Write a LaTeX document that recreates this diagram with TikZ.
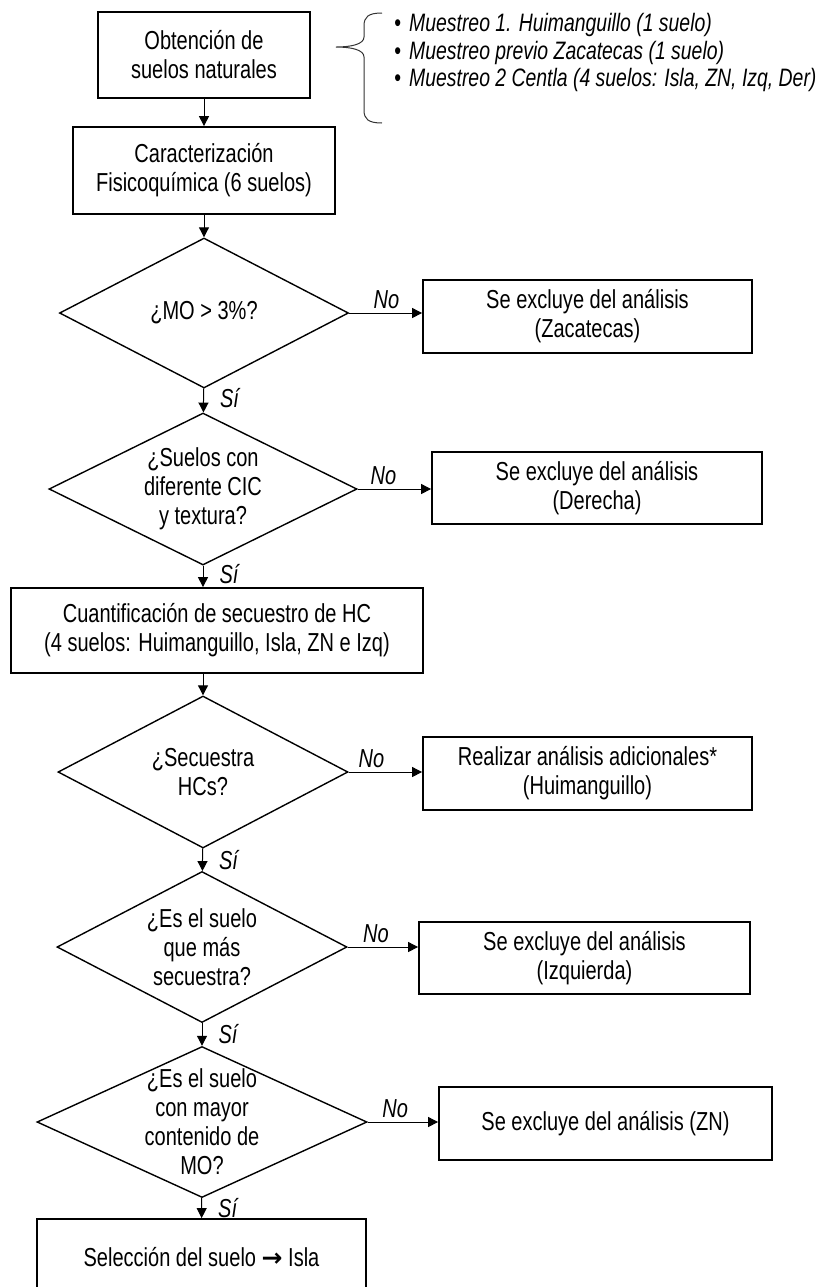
\documentclass[tikz,border=0pt]{standalone}
\usepackage{fontspec}
\setmainfont{Liberation Sans}[FakeStretch=0.77]
\newfontfamily\arrowfont{DejaVu Sans}
\usetikzlibrary{arrows.meta,shapes.geometric}

\begin{document}
\begin{tikzpicture}[x=0.5pt, y=-0.5pt, >={Triangle[length=5pt,width=5pt]},
  font=\fontsize{13pt}{14.5pt}\selectfont,
  box/.style={draw, line width=0.9pt, align=center, inner sep=0pt},
  dec/.style={draw, diamond, line width=0.7pt, inner sep=0pt},
  txt/.style={align=center, inner sep=0pt},
  flow/.style={->, line width=0.5pt},
  yes/.style={font=\fontsize{13pt}{14.5pt}\selectfont\itshape, anchor=west, inner sep=2pt, xshift=6pt},
  no/.style={font=\fontsize{13pt}{14.5pt}\selectfont\itshape, anchor=south, inner sep=2pt}]
  \useasboundingbox (0,0) rectangle (825,1287);
  \clip (0,0) rectangle (825,1287);
  % main column
  \node[box, minimum width=106pt, minimum height=43pt] (obt) at (204,55) {Obtención de\\suelos naturales};
  \node[box, minimum width=131pt, minimum height=43.5pt] (car) at (204,170.5) {Caracterización\\Fisicoquímica (6 suelos)};
  \node[dec, minimum width=144.5pt, minimum height=75pt] (mo) at (204,313) {};
  \node[txt] (motxt) at (mo) {¿MO > 3\%?};
  \node[dec, minimum width=154pt, minimum height=76pt] (cic) at (203,489) {};
  \node[txt] (cictxt) at (cic) {¿Suelos con\\diferente CIC\\y textura?};
  \node[box, minimum width=206pt, minimum height=42.5pt] (cuan) at (217,630.5) {Cuantificación de secuestro de HC\\(4 suelos: Huimanguillo, Isla, ZN e Izq)};
  \node[dec, minimum width=145pt, minimum height=76pt] (hcs) at (203,772) {};
  \node[txt] (hcstxt) at (hcs) {¿Secuestra\\HCs?};
  \node[dec, minimum width=145pt, minimum height=75.5pt] (mas) at (202,947) {};
  \node[txt] (mastxt) at (mas) {¿Es el suelo\\que más\\secuestra?};
  \node[dec, minimum width=165pt, minimum height=75.5pt] (may) at (202,1122) {};
  \node[txt] (maytxt) at (may) {¿Es el suelo\\con mayor\\contenido de\\MO?};
  \node[box, minimum width=164.5pt, minimum height=38pt] (sel) at (201.5,1257) {Selección del suelo {\arrowfont\bfseries\fontsize{12.5pt}{12pt}\selectfont →} Isla};
  % exclusions
  \node[box, minimum width=164.5pt, minimum height=36.5pt] (zac) at (587.5,316.5) {Se excluye del análisis\\(Zacatecas)};
  \node[box, minimum width=165pt, minimum height=36pt] (der) at (597,488) {Se excluye del análisis\\(Derecha)};
  \node[box, minimum width=164.5pt, minimum height=36.5pt] (hui) at (587.5,773.5) {Realizar análisis adicionales*\\(Huimanguillo)};
  \node[box, minimum width=165.5pt, minimum height=36pt] (izq) at (584.5,958) {Se excluye del análisis\\(Izquierda)};
  \node[box, minimum width=166.5pt, minimum height=36.5pt] (zn) at (605.5,1123.5) {Se excluye del análisis (ZN)};
  % sampling list
  \node[anchor=west, align=left, inner sep=0pt, font=\fontsize{12.6pt}{13.75pt}\selectfont\itshape] (lista) at (394,52.5)
    {{\upshape •}\hspace{4pt}Muestreo 1. Huimanguillo (1 suelo)\\
     {\upshape •}\hspace{4pt}Muestreo previo Zacatecas (1 suelo)\\
     {\upshape •}\hspace{4pt}Muestreo 2 Centla (4 suelos: Isla, ZN, Izq, Der)};
  \draw[line width=0.5pt, black!80] (382,13) .. controls (368,13) and (364,17) .. (364,26) -- (364,37)
    .. controls (364,44) and (352,47) .. (336,47) .. controls (352,47) and (364,50) .. (364,57)
    -- (364,110) .. controls (364,119) and (368,123) .. (382,123);
  % connectors
  \draw[flow] (obt) -- (car);
  \draw[flow] (car) -- (mo);
  \draw[flow] (mo) -- node[yes, pos=0.4]{Sí} (cic);
  \draw[flow] (cic.south) -- node[yes, pos=0.4]{Sí} (cic.south |- cuan.north);
  \draw[flow] (cuan.south -| hcs.north) -- (hcs.north);
  \draw[flow] (hcs) -- node[yes, pos=0.5]{Sí} (mas);
  \draw[flow] (mas) -- node[yes, pos=0.5]{Sí} (may);
  \draw[flow] (may) -- node[yes, pos=0.5]{Sí} (sel);
  \draw[flow] (mo.east) -- node[no, pos=0.51]{No} (mo.east -| zac.west);
  \draw[flow] (cic.east) -- node[no, pos=0.35]{No} (cic.east -| der.west);
  \draw[flow] (hcs.east) -- node[no, pos=0.31]{No} (hcs.east -| hui.west);
  \draw[flow] (mas.east) -- node[no, pos=0.4]{No} (mas.east -| izq.west);
  \draw[flow] (may.east) -- node[no, pos=0.39]{No} (may.east -| zn.west);
\end{tikzpicture}
\end{document}
